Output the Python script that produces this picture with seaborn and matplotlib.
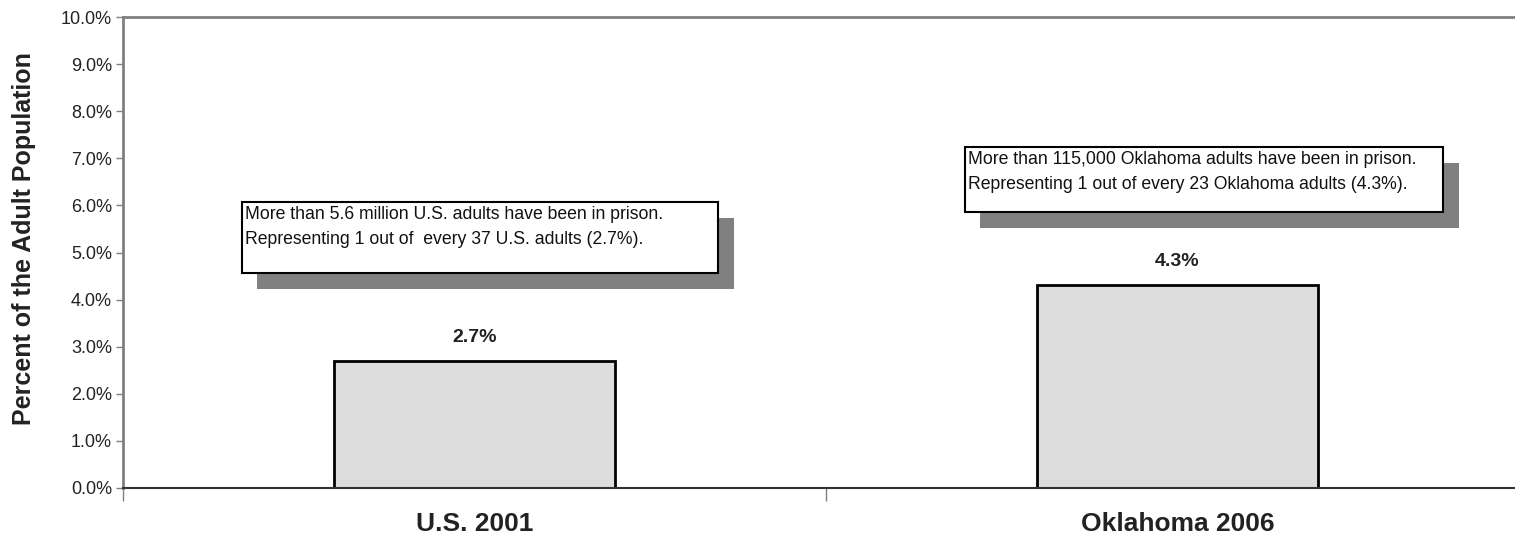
import numpy as np
import pandas as pd
import matplotlib
matplotlib.use('Agg')
import matplotlib.pyplot as plt
from matplotlib.patches import Rectangle
from matplotlib.ticker import FuncFormatter, FixedLocator
import seaborn as sns

# 数据
categories = ['U.S. 2001', 'Oklahoma 2006']
values = [2.7, 4.3]
value_labels = ['2.7%', '4.3%']
notes = [
    'More than 5.6 million U.S. adults have been in prison.\nRepresenting 1 out of  every 37 U.S. adults (2.7%).',
    'More than 115,000 Oklahoma adults have been in prison.\nRepresenting 1 out of every 23 Oklahoma adults (4.3%).',
]
y_label = 'Percent of the Adult Population'

sns.set_style('white')
plt.rcParams['font.family'] = ['Liberation Sans Narrow', 'Liberation Sans', 'DejaVu Sans']

W, H = 1515, 548
fig = plt.figure(figsize=(W / 100, H / 100), dpi=100)
# 右边界略超出画布（原图右侧被裁掉）
ax = fig.add_axes([123 / W, 1 - 488 / H, 1406 / W, (488 - 17) / H])

df = pd.DataFrame({'cat': categories, 'val': values})
sns.barplot(data=df, x='cat', y='val', width=0.4, color='#DDDDDD',
            edgecolor='black', linewidth=2, saturation=1, ax=ax)

ax.set_xlim(-0.5, 1.5)
ax.set_ylim(0, 10)
ax.set_yticks(np.arange(0, 10.01, 1))
ax.yaxis.set_major_formatter(FuncFormatter(lambda v, p: f'{v:.1f}%'))
ax.tick_params(axis='y', left=True, length=5, width=1, color='#808080',
               labelsize=13, labelcolor='#222222', pad=3)

# x轴：标签居中，刻度在类别边界
ax.xaxis.set_minor_locator(FixedLocator([-0.5, 0.5, 1.5]))
ax.tick_params(axis='x', which='major', length=0, pad=17)
ax.tick_params(axis='x', which='minor', bottom=True, length=9, width=1, color='#808080')
for lab in ax.get_xticklabels():
    lab.set_fontsize(19)
    lab.set_fontweight('bold')
    lab.set_color('#222222')
ax.set_xlabel('')
ax.set_ylabel(y_label, fontsize=18, fontweight='bold', color='#222222')
ax.yaxis.set_label_coords(-0.062, 0.53)

for side in ['top', 'left']:
    ax.spines[side].set_color('#808080')
    ax.spines[side].set_linewidth(2)
ax.spines['bottom'].set_color('#333333')
ax.spines['bottom'].set_linewidth(1.5)
ax.spines['right'].set_visible(False)

# 柱子数值
for i, (v, lab) in enumerate(zip(values, value_labels)):
    ax.annotate(lab, (i, v), xytext=(0, 11), textcoords='offset points',
                ha='center', va='bottom', fontsize=14, fontweight='bold', color='#222222')

# 注释框（带阴影）
boxes = [(242, 202, 718, 273), (965, 147, 1443, 212)]
for (x0, y0, x1, y1), note in zip(boxes, notes):
    shadow = Rectangle((x0 + 15, H - y1 - 16), x1 - x0 + 1, y1 - y0,
                       transform=None, facecolor='#808080', edgecolor='none', zorder=5)
    box = Rectangle((x0, H - y1), x1 - x0, y1 - y0, transform=None,
                    facecolor='white', edgecolor='black', linewidth=1.5, zorder=6)
    fig.add_artist(shadow)
    fig.add_artist(box)
    fig.text((x0 + 3) / W, (H - y0 - 4) / H, note, ha='left', va='top',
             fontsize=12.7, color='#111111', linespacing=1.65, zorder=7)

plt.savefig('out.png', dpi=100)
